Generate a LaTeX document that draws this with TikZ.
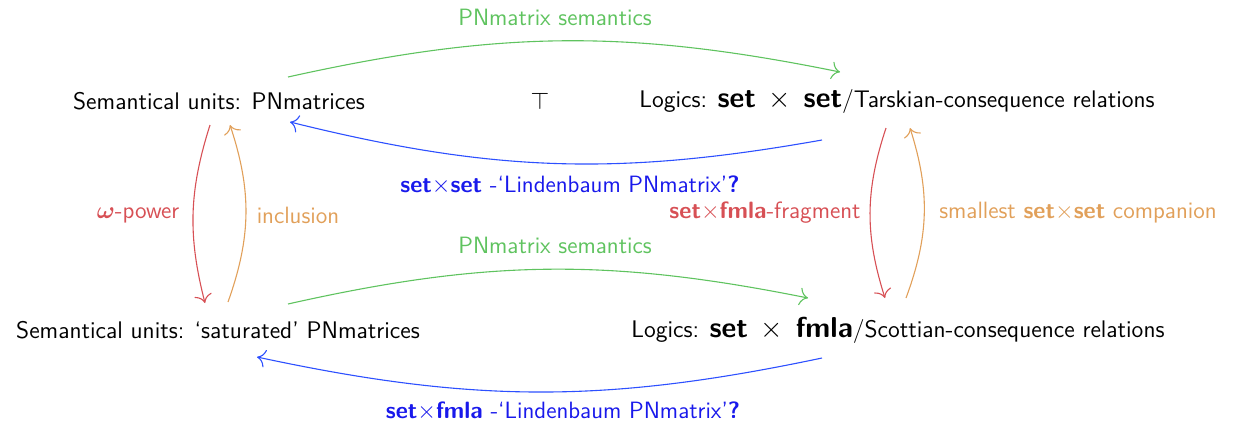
\documentclass[tikz,border=0pt]{standalone}
\usepackage{amsmath}
\usetikzlibrary{arrows.meta}
\renewcommand{\familydefault}{\sfdefault}
\definecolor{cgreen}{RGB}{95,195,95}
\definecolor{cblue}{RGB}{45,80,255}
\definecolor{cbluet}{RGB}{25,25,235}
\definecolor{cred}{RGB}{215,80,85}
\definecolor{corange}{RGB}{225,160,90}
\tikzset{
  unit/.style={inner sep=0pt, font=\sffamily\fontsize{12}{14}\selectfont},
  lbl/.style={inner sep=0pt, font=\sffamily\fontsize{11.8}{14}\selectfont},
  conn/.style={-{To[scale=1.5]}, line width=0.55pt},
}
\newcommand{\bset}{\textbf{set}}
\newcommand{\bfmla}{\textbf{fmla}}
\newcommand{\bigtimes}{{\Large\,$\times$\,}}
\begin{document}
\begin{tikzpicture}[x=0.5pt,y=0.5pt]
\useasboundingbox (0,0) rectangle (1237,-424);
% main nodes
\node[unit] (A) at (219,-101) {Semantical units: PNmatrices};
\node[unit] (T) at (540,-101) {$\top$};
\node[unit] (B) at (897,-101) {Logics: {\Large\bset} \bigtimes{} {\Large\bset}/Tarskian-consequence relations};
\node[unit] (C) at (218,-330) {Semantical units: `saturated' PNmatrices};
\node[unit] (D) at (898,-330) {Logics: {\Large\bset} \bigtimes{} {\Large\bfmla}/Scottian-consequence relations};
% connectors
\draw[conn, cgreen] ([shift={(69,24)}]A.center) to[bend left=12] ([shift={(-57,29)}]B.center);
\draw[conn, cblue] ([shift={(-75,-39)}]B.center) to[bend left=12] ([shift={(71,-21)}]A.center);
\draw[conn, cgreen] ([shift={(70,26)}]C.center) to[bend left=12] ([shift={(-90,32)}]D.center);
\draw[conn, cblue] ([shift={(-76,-28)}]D.center) to[bend left=12] ([shift={(39,-27)}]C.center);
\draw[conn, cred] ([shift={(-9,-24)}]A.center) to[bend right=16] ([shift={(-13,27)}]C.center);
\draw[conn, corange] ([shift={(10,28)}]C.center) to[bend right=19] ([shift={(11,-24)}]A.center);
\draw[conn, cred] ([shift={(-11,-27)}]B.center) to[bend right=18] ([shift={(-13,32)}]D.center);
\draw[conn, corange] ([shift={(8,32)}]D.center) to[bend right=19] ([shift={(13,-27)}]B.center);
% labels
\node[lbl, text=cgreen] (l1) at (555,-17) {PNmatrix semantics};
\node[lbl, text=cbluet] (l2) at (570,-185) {\bset$\times$\bset{} -`Lindenbaum PNmatrix'\textbf{?}};
\node[lbl, text=cgreen] (l3) at (555,-245) {PNmatrix semantics};
\node[lbl, text=cbluet] (l4) at (563,-411) {\bset$\times$\bfmla{} -`Lindenbaum PNmatrix'\textbf{?}};
\node[lbl, text=cred] (l5) at (138,-215) {$\boldsymbol{\omega}$-power};
\node[lbl, text=corange] (l6) at (298,-215) {inclusion};
\node[lbl, text=cred] (l7) at (765,-213) {\bset$\times$\bfmla-fragment};
\node[lbl, text=corange] (l8) at (1078,-213) {smallest \bset$\times$\bset{} companion};
\end{tikzpicture}
\end{document}
